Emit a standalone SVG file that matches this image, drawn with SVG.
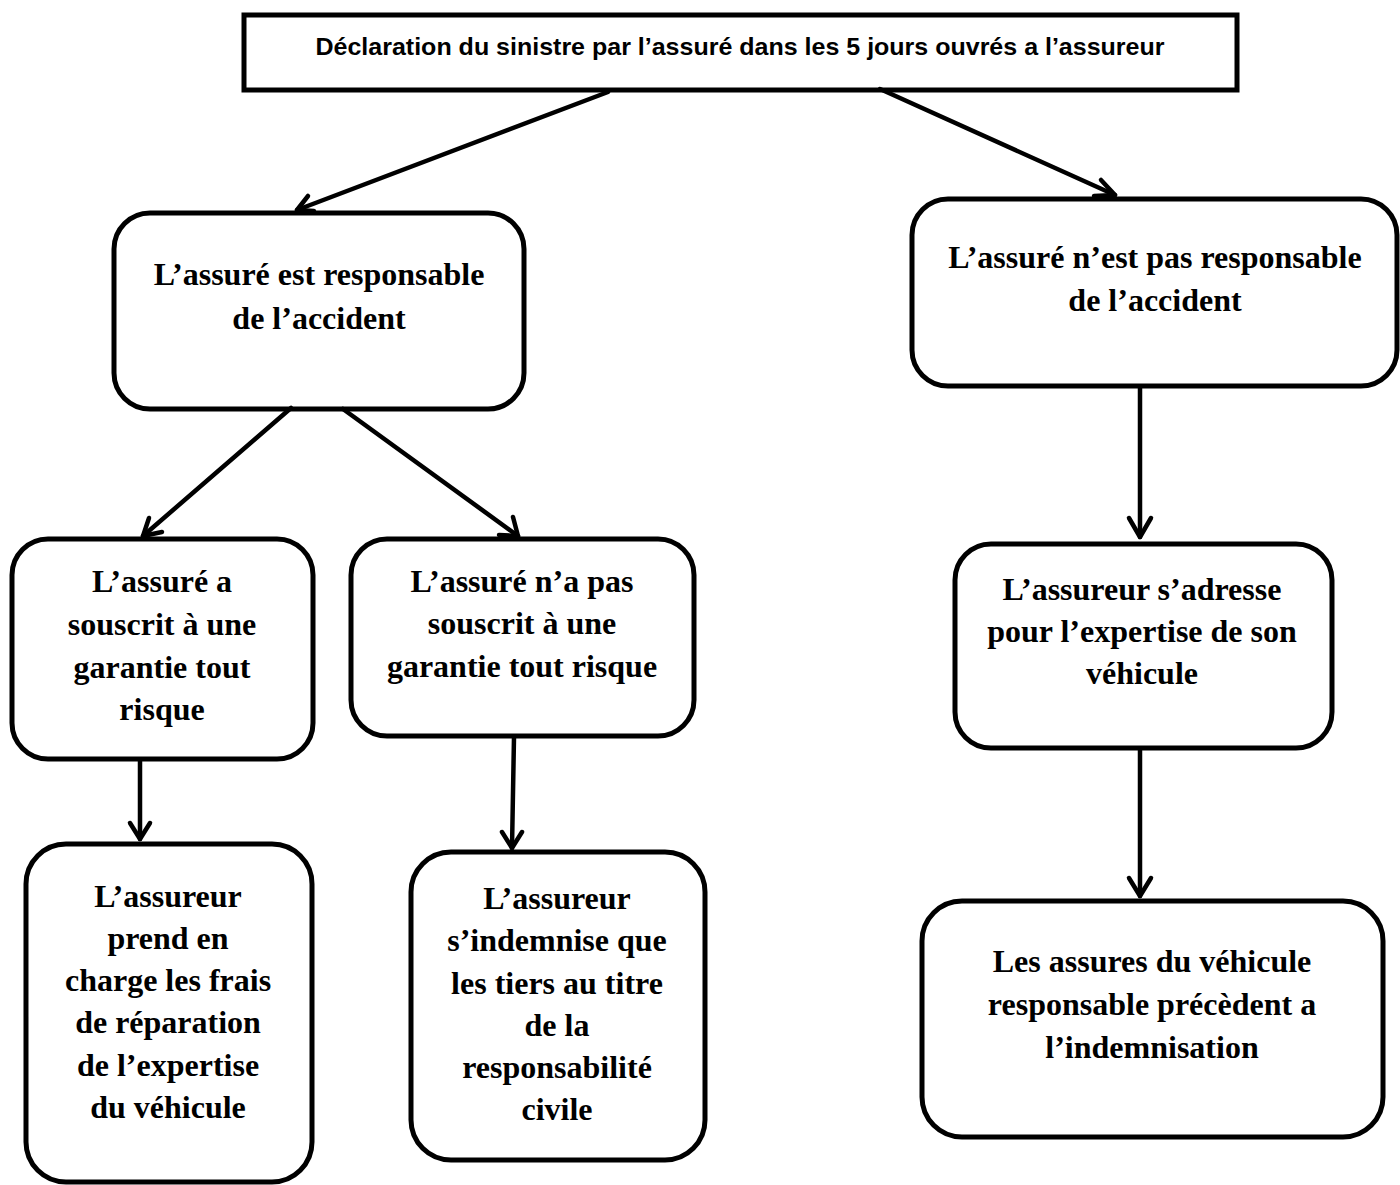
<svg xmlns="http://www.w3.org/2000/svg" width="1400" height="1185" viewBox="0 0 1400 1185">
<style>
.box{fill:#fff;stroke:#000;stroke-width:5}
.t{font-family:"Liberation Serif","Times New Roman",serif;font-weight:bold;font-size:32px;text-anchor:middle;fill:#000}
.h{font-family:"Liberation Sans",Arial,sans-serif;font-weight:bold;font-size:24px;text-anchor:middle;fill:#000}
.c line{stroke:#000;stroke-width:4.5;stroke-linecap:round}
.c path{fill:none;stroke:#000;stroke-width:4.5;stroke-linecap:round;stroke-linejoin:round}
</style>
<rect width="1400" height="1185" fill="#fff"/>
<g id="n0">
<rect class="box" x="244" y="15" width="993" height="75"/>
<text class="h" x="740" y="55" textLength="849" lengthAdjust="spacingAndGlyphs">Déclaration du sinistre par l’assuré dans les 5 jours ouvrés a l’assureur</text>
</g>
<g id="n1">
<rect class="box" x="114" y="213" width="410" height="196" rx="36"/>
<text class="t" x="319" y="285">L’assuré est responsable</text>
<text class="t" x="319" y="329">de l’accident</text>
</g>
<g id="n2">
<rect class="box" x="912" y="199" width="485" height="187" rx="36"/>
<text class="t" x="1155" y="268">L’assuré n’est pas responsable</text>
<text class="t" x="1155" y="311">de l’accident</text>
</g>
<g id="n3">
<rect class="box" x="12" y="539" width="301" height="220" rx="36"/>
<text class="t" x="162" y="592">L’assuré a</text>
<text class="t" x="162" y="635">souscrit à une</text>
<text class="t" x="162" y="678">garantie tout</text>
<text class="t" x="162" y="720">risque</text>
</g>
<g id="n4">
<rect class="box" x="351" y="539" width="343" height="197" rx="36"/>
<text class="t" x="522" y="592">L’assuré n’a pas</text>
<text class="t" x="522" y="634">souscrit à une</text>
<text class="t" x="522" y="677">garantie tout risque</text>
</g>
<g id="n5">
<rect class="box" x="955" y="544" width="377" height="204" rx="36"/>
<text class="t" x="1142" y="600">L’assureur s’adresse</text>
<text class="t" x="1142" y="642">pour l’expertise de son</text>
<text class="t" x="1142" y="684">véhicule</text>
</g>
<g id="n6">
<rect class="box" x="26" y="844" width="286" height="338" rx="40"/>
<text class="t" x="168" y="907">L’assureur</text>
<text class="t" x="168" y="949">prend en</text>
<text class="t" x="168" y="991">charge les frais</text>
<text class="t" x="168" y="1033">de réparation</text>
<text class="t" x="168" y="1076">de l’expertise</text>
<text class="t" x="168" y="1118">du véhicule</text>
</g>
<g id="n7">
<rect class="box" x="411" y="852" width="294" height="308" rx="40"/>
<text class="t" x="557" y="909">L’assureur</text>
<text class="t" x="557" y="951">s’indemnise que</text>
<text class="t" x="557" y="994">les tiers au titre</text>
<text class="t" x="557" y="1036">de la</text>
<text class="t" x="557" y="1078">responsabilité</text>
<text class="t" x="557" y="1120">civile</text>
</g>
<g id="n8">
<rect class="box" x="922" y="901" width="461" height="236" rx="40"/>
<text class="t" x="1152" y="972">Les assures du véhicule</text>
<text class="t" x="1152" y="1015">responsable précèdent a</text>
<text class="t" x="1152" y="1058">l’indemnisation</text>
</g>
<g id="connectors" class="c">
<line x1="608" y1="92" x2="297" y2="210"/>
<path d="M308 196 L297 210 L314 211"/>
<line x1="880" y1="89" x2="1115" y2="195"/>
<path d="M1101 180 L1115 195 L1094 196"/>
<line x1="291" y1="408" x2="143" y2="536"/>
<path d="M149 518 L143 536 L162 532"/>
<line x1="343" y1="409" x2="518" y2="536"/>
<path d="M513 517 L518 536 L499 535"/>
<line x1="140" y1="760" x2="140" y2="839"/>
<path d="M130 823 L140 839 L150 823"/>
<line x1="514" y1="737" x2="512" y2="848"/>
<path d="M502 832 L512 848 L522 832"/>
<line x1="1140" y1="388" x2="1140" y2="537"/>
<path d="M1129 518 L1140 537 L1151 518"/>
<line x1="1140" y1="750" x2="1140" y2="896"/>
<path d="M1129 878 L1140 896 L1151 878"/>
</g>
</svg>
